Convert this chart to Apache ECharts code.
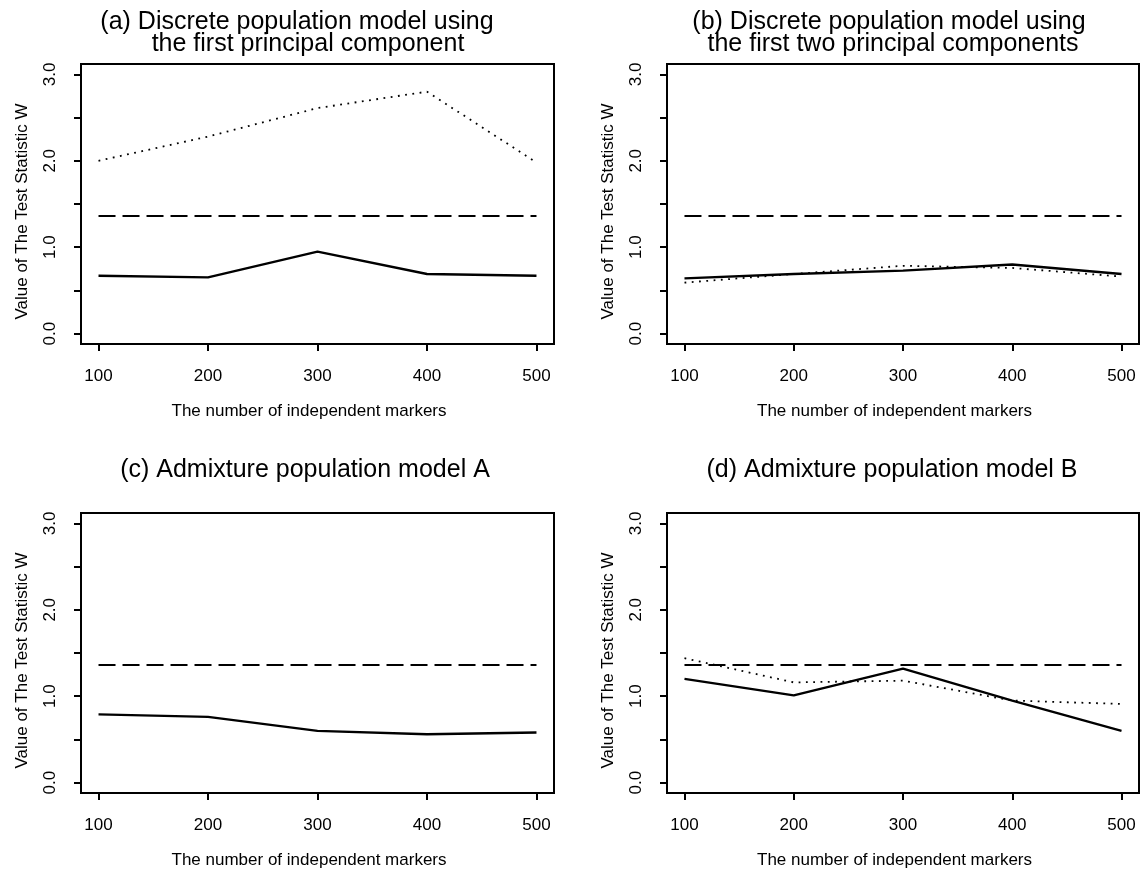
<!DOCTYPE html>
<html><head><meta charset="utf-8">
<script src="https://cdn.jsdelivr.net/npm/echarts@6/dist/echarts.min.js"></script>
<style>html,body{margin:0;padding:0;background:#fff}#c{width:1141px;height:872px}</style>
</head><body><div id="c"></div>
<script>
// ---- data ----
const markers = [100, 200, 300, 400, 500];
const xTicks = [100, 200, 300, 400, 500];
const yTicks = [0, 0.5, 1, 1.5, 2, 2.5, 3];
const yLabels = [0, 1, 2, 3];
const xName = 'The number of independent markers';
const yName = 'Value of The Test Statistic W';
const titleA = ['(a) Discrete population model using', 'the first principal component'];
const titleB = ['(b) Discrete population model using', 'the first two principal components'];
const titleC = ['(c) Admixture population model A'];
const titleD = ['(d) Admixture population model B'];
const threshold = [1.36, 1.36, 1.36, 1.36, 1.36];
const aSolid  = [0.67, 0.65, 0.95, 0.69, 0.67];
const aDotted = [2.00, 2.28, 2.61, 2.80, 1.98];
const bSolid  = [0.64, 0.69, 0.73, 0.80, 0.69];
const bDotted = [0.59, 0.69, 0.785, 0.76, 0.66];
const cSolid  = [0.79, 0.76, 0.60, 0.56, 0.58];
const dSolid  = [1.20, 1.01, 1.32, 0.95, 0.60];
const dDotted = [1.44, 1.16, 1.18, 0.95, 0.91];

// ---- layout ----
const FONT = "'Liberation Sans', Arial, Helvetica, sans-serif";
const panels = [
  {grid: {left: 81, top: 64, width: 473, height: 280}, titles: titleA, tx: [297, 308], ty: [10, 31.5],
   solid: aSolid, dotted: aDotted},
  {grid: {left: 667, top: 64, width: 472, height: 280}, titles: titleB, tx: [889, 893], ty: [10, 31.5],
   solid: bSolid, dotted: bDotted},
  {grid: {left: 81, top: 513, width: 473, height: 280}, titles: titleC, tx: [305], ty: [458],
   solid: cSolid, dotted: null},
  {grid: {left: 667, top: 513, width: 472, height: 280}, titles: titleD, tx: [892], ty: [458],
   solid: dSolid, dotted: dDotted}
];

const pairs = vals => markers.map((m, i) => [m, vals[i]]);

const option = {
  animation: false,
  backgroundColor: '#fff',
  textStyle: {fontFamily: FONT, color: '#000'},
  title: [], grid: [], xAxis: [], yAxis: [], series: []
};

panels.forEach((p, i) => {
  p.titles.forEach((t, j) => {
    option.title.push({
      text: t, left: p.tx[j], top: p.ty[j], textAlign: 'center', padding: 0,
      textStyle: {fontFamily: FONT, fontSize: 25, fontWeight: 'normal', color: '#000'}
    });
  });
  option.grid.push(Object.assign({show: true, borderColor: '#000', borderWidth: 2, backgroundColor: 'transparent'}, p.grid));
  option.xAxis.push({
    type: 'value', gridIndex: i, min: 84, max: 516,
    name: xName, nameLocation: 'middle', nameGap: 59,
    nameTextStyle: {fontFamily: FONT, fontSize: 17, color: '#000', padding: [0, 17, 0, 0]},
    axisLine: {show: true, onZero: false, lineStyle: {color: '#000', width: 2}},
    axisTick: {show: true, length: 7, lineStyle: {color: '#000', width: 2}, customValues: xTicks},
    axisLabel: {show: true, margin: 24, fontSize: 17, color: '#000', fontFamily: FONT, customValues: xTicks},
    splitLine: {show: false}
  });
  option.yAxis.push({
    type: 'value', gridIndex: i, min: -0.12, max: 3.12,
    name: yName, nameLocation: 'middle', nameGap: 50,
    nameTextStyle: {fontFamily: FONT, fontSize: 17, color: '#000', padding: [0, 15, 0, 0]},
    axisLine: {show: true, onZero: false, lineStyle: {color: '#000', width: 2}},
    axisTick: {show: true, length: 7, lineStyle: {color: '#000', width: 2}, customValues: yTicks},
    axisLabel: {show: true, margin: 22, rotate: 90, fontSize: 17, color: '#000', fontFamily: FONT,
      customValues: yLabels, formatter: v => Number(v).toFixed(1)},
    splitLine: {show: false}
  });
  option.series.push({
    type: 'line', xAxisIndex: i, yAxisIndex: i, data: pairs(threshold), symbol: 'none',
    lineStyle: {color: '#000', width: 2, type: [17, 7]}, silent: true
  });
  option.series.push({
    type: 'line', xAxisIndex: i, yAxisIndex: i, data: pairs(p.solid), symbol: 'none',
    lineStyle: {color: '#000', width: 2.3, type: 'solid'}, silent: true
  });
  if (p.dotted) {
    option.series.push({
      type: 'line', xAxisIndex: i, yAxisIndex: i, data: pairs(p.dotted), symbol: 'none',
      lineStyle: {color: '#000', width: 1.8, type: [1.8, 5.5]}, silent: true
    });
  }
});

const chart = echarts.init(document.getElementById('c'), null, {renderer: 'canvas'});
chart.setOption(option);
</script>
</body></html>
